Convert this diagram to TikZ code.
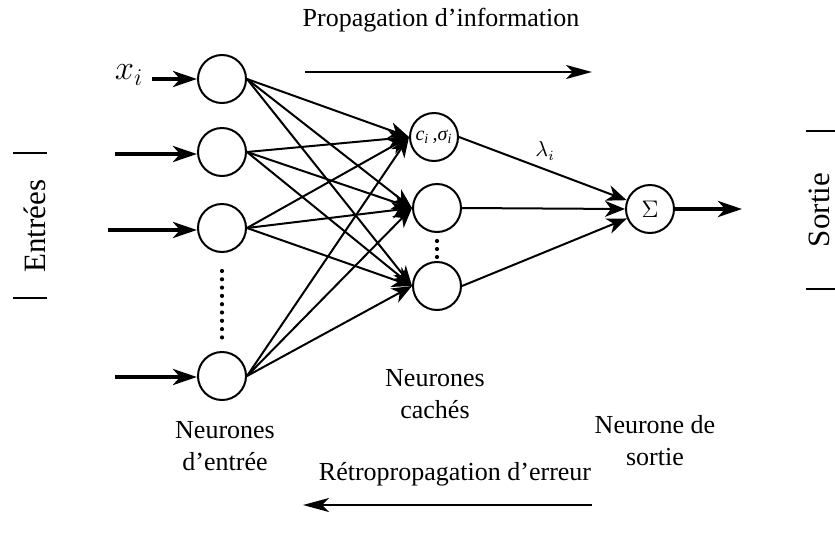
\documentclass[tikz,border=0pt]{standalone}
\usepackage{fontspec}
\setmainfont{Liberation Serif}
\usetikzlibrary{arrows.meta}
\tikzset{
  neuron/.style={draw, circle, line width=1pt, minimum size=24pt, inner sep=0pt},
  link/.style={line width=1pt, -{Stealth[length=10pt,width=8pt,inset=3pt]}},
  feed/.style={line width=2pt, -{Stealth[length=12pt,width=8pt,inset=3.5pt]}},
  flow/.style={line width=1.2pt, -{Stealth[length=13pt,width=7pt,inset=3.5pt]}},
  lbl/.style={font=\fontsize{13}{16}\selectfont, align=center},
  side/.style={font=\fontsize{15.5}{18}\selectfont, rotate=90},
  bar/.style={line width=1.1pt}
}
\begin{document}
\begin{tikzpicture}[x=0.5pt, y=-0.5pt]
\useasboundingbox (0,0) rectangle (835,536);

% input layer
\node[neuron] (i1) at (222,79) {};
\node[neuron] (i2) at (222,152) {};
\node[neuron] (i3) at (222,228) {};
\node[neuron] (i4) at (222,376) {};
\foreach \k in {0,...,8} \fill (222,271+\k*8.3) circle (1.05pt);

% hidden layer
\node[neuron] (h1) at (434,137) {\fontsize{10}{11}\selectfont\itshape c\textsubscript{i}\,,σ\textsubscript{i}};
\node[neuron] (h2) at (437,208) {};
\node[neuron] (h3) at (437,286) {};
\foreach \k in {0,1,2} \fill (437,241+\k*8) circle (1.05pt);

% output neuron
\node[neuron] (o) at (650,209) {\fontsize{12}{13}\selectfont$\Sigma$};

% input feeds
\coordinate (s1) at (152,79);
\coordinate (s2) at (115,154);
\coordinate (s3) at (108,230);
\coordinate (s4) at (115,377);
\draw[feed] (s1) -- (i1.west |- s1);
\draw[feed] (s2) -- (i2.west |- s2);
\draw[feed] (s3) -- (i3.west |- s3);
\draw[feed] (s4) -- (i4.west |- s4);
\node[font=\fontsize{17}{19}\selectfont] (xi) at (129,75) {$x_i$};

% input -> hidden connections
\foreach \a in {i1,i2,i3,i4}
  \foreach \b in {h1,h2,h3}
    \draw[link] (\a.east) -- (\b.west);

% hidden -> output connections
\draw[link] (h1.east) -- (o);
\draw[link] (h2.east) -- (o.west);
\draw[link] (h3.east) -- (o);
\node[font=\fontsize{10.5}{12}\selectfont] (lam) at (545,151) {$\lambda_i$};

% output
\coordinate (out) at (742,209);
\draw[feed] (o.east) -- (out);

% propagation arrows
\node[lbl] (prop) at (441,20) {Propagation d’information};
\coordinate (pa) at (305,72);
\coordinate (pb) at (592,72);
\draw[flow] (pa) -- (pb);
\node[lbl] (retro) at (455,474) {Rétropropagation d’erreur};
\coordinate (ra) at (592,505);
\coordinate (rb) at (303,505);
\draw[flow] (ra) -- (rb);

% layer captions
\node[lbl] (cin) at (225,446) {Neurones\\d’entrée};
\node[lbl] (chid) at (435,394) {Neurones\\cachés};
\node[lbl] (cout) at (655,441) {Neurone de\\sortie};

% side labels
\node[side] (ent) at (35,226) {Entrées};
\coordinate (e1) at (13,153); \coordinate (e2) at (47,153);
\coordinate (e3) at (13,298); \coordinate (e4) at (47,298);
\draw[bar] (e1) -- (e2);
\draw[bar] (e3) -- (e4);
\node[side] (sor) at (819,210) {Sortie};
\coordinate (t1) at (806,131); \coordinate (t2) at (835,131);
\coordinate (t3) at (806,289); \coordinate (t4) at (835,289);
\draw[bar] (t1) -- (t2);
\draw[bar] (t3) -- (t4);
\end{tikzpicture}
\end{document}
